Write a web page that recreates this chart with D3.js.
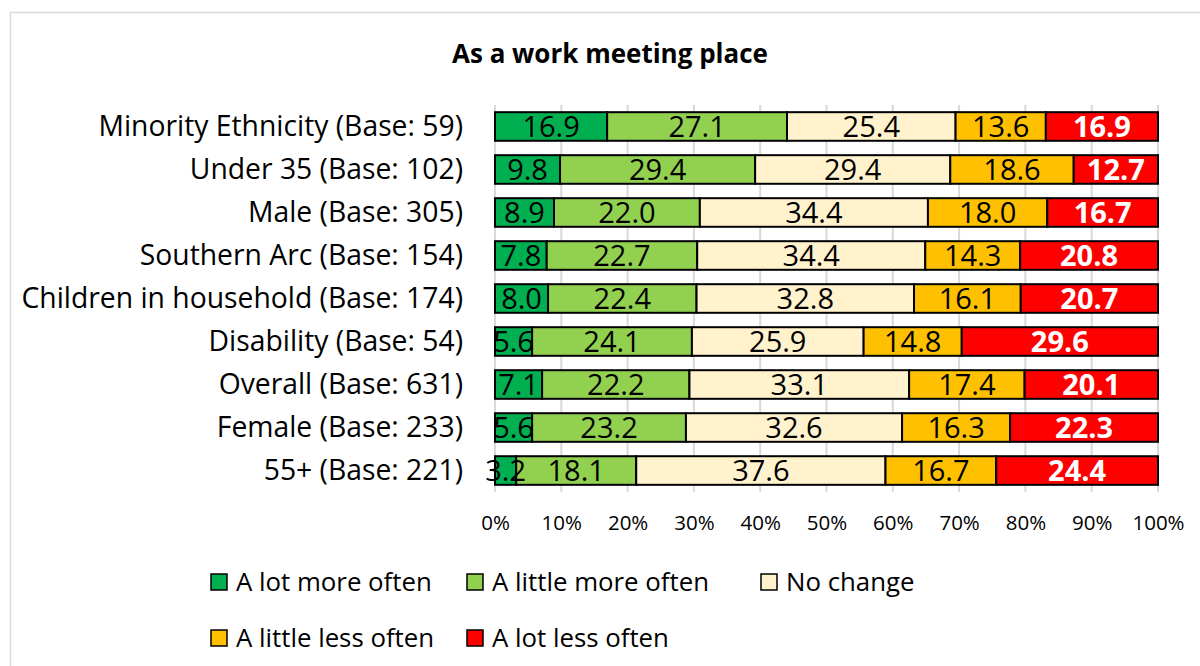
<!DOCTYPE html>
<html>
<head>
<meta charset="utf-8">
<script src="https://cdn.jsdelivr.net/npm/d3@7"></script>
<style>
  html, body { margin: 0; padding: 0; background: #fff; }
  svg { display: block; font-family: "Open Sans", Lato, sans-serif; }
</style>
</head>
<body>
<svg id="chart" width="1200" height="666"></svg>
<script>
// Survey groups, listed top to bottom
const categories = [
  "Minority Ethnicity (Base: 59)",
  "Under 35 (Base: 102)",
  "Male (Base: 305)",
  "Southern Arc (Base: 154)",
  "Children in household (Base: 174)",
  "Disability (Base: 54)",
  "Overall (Base: 631)",
  "Female (Base: 233)",
  "55+ (Base: 221)"
];

const seriesNames = [
  "A lot more often",
  "A little more often",
  "No change",
  "A little less often",
  "A lot less often"
];

// Percentages per response, in the order of categories
const aLotMore    = [16.9, 9.8, 8.9, 7.8, 8.0, 5.6, 7.1, 5.6, 3.2];
const aLittleMore = [27.1, 29.4, 22.0, 22.7, 22.4, 24.1, 22.2, 23.2, 18.1];
const noChange    = [25.4, 29.4, 34.4, 34.4, 32.8, 25.9, 33.1, 32.6, 37.6];
const aLittleLess = [13.6, 18.6, 18.0, 14.3, 16.1, 14.8, 17.4, 16.3, 16.7];
const aLotLess    = [16.9, 12.7, 16.7, 20.8, 20.7, 29.6, 20.1, 22.3, 24.4];

const tickValues = [0, 0.1, 0.2, 0.3, 0.4, 0.5, 0.6, 0.7, 0.8, 0.9, 1.0];

const colors = ["#00B050", "#92D050", "#FFF2CC", "#FFC000", "#FF0000"];
const labelColors = ["#000", "#000", "#000", "#000", "#fff"];
const labelWeights = ["normal", "normal", "normal", "normal", "bold"];

const seriesValues = [aLotMore, aLittleMore, noChange, aLittleLess, aLotLess];
const rows = categories.map((c, i) => {
  const r = { category: c };
  seriesNames.forEach((s, k) => { r[s] = seriesValues[k][i]; });
  return r;
});

const stack = d3.stack().keys(seriesNames).offset(d3.stackOffsetExpand);
const layers = stack(rows);

const svg = d3.select("#chart");

// Chart frame
svg.append("rect")
  .attr("x", 10.5).attr("y", 12.5)
  .attr("width", 1200).attr("height", 700)
  .attr("fill", "#fff").attr("stroke", "#D9D9D9").attr("stroke-width", 1.5);

const plot = { left: 495, right: 1158, top: 105, bottom: 492 };

const x = d3.scaleLinear().domain([0, 1]).range([plot.left, plot.right]);
const y = d3.scaleBand().domain(categories).range([plot.top, plot.bottom]).paddingInner(0.335).paddingOuter(0.167);

// Title
svg.append("text")
  .attr("x", 610).attr("y", 63)
  .attr("text-anchor", "middle")
  .attr("font-size", 26).attr("font-weight", "bold")
  .text("As a work meeting place");

// Vertical gridlines
svg.append("g")
  .selectAll("line")
  .data(tickValues)
  .join("line")
  .attr("x1", d => x(d)).attr("x2", d => x(d))
  .attr("y1", plot.top).attr("y2", plot.bottom)
  .attr("stroke", "#D9D9D9").attr("stroke-width", 2);

// X axis labels
const xAxis = d3.axisBottom(x)
  .tickValues(tickValues)
  .tickFormat(d3.format(".0%"))
  .tickSize(0)
  .tickPadding(0);
const gx = svg.append("g")
  .attr("transform", `translate(0,${plot.bottom + 23})`)
  .call(xAxis);
gx.select(".domain").remove();
gx.selectAll("text").attr("font-size", 20.5).attr("font-family", "'Open Sans', sans-serif").attr("fill", "#000");

// Category labels
const yAxis = d3.axisLeft(y).tickSize(0).tickPadding(0);
const gy = svg.append("g")
  .attr("transform", `translate(${plot.left - 32},0)`)
  .call(yAxis);
gy.select(".domain").remove();
gy.selectAll("text").attr("font-size", 28.3).attr("font-family", "'Open Sans', sans-serif").attr("fill", "#000");

// Stacked bars
const groups = svg.append("g")
  .selectAll("g")
  .data(layers)
  .join("g")
  .attr("fill", (d, i) => colors[i]);

groups.selectAll("rect")
  .data(d => d)
  .join("rect")
  .attr("x", d => x(d[0]))
  .attr("y", d => y(d.data.category))
  .attr("width", d => x(d[1]) - x(d[0]))
  .attr("height", y.bandwidth())
  .attr("stroke", "#000").attr("stroke-width", 2);

// Value labels
const labels = svg.append("g");
layers.forEach((layer, k) => {
  labels.selectAll(null)
    .data(layer)
    .join("text")
    .attr("x", d => (x(d[0]) + x(d[1])) / 2)
    .attr("y", d => y(d.data.category) + y.bandwidth() / 2)
    .attr("dy", "0.36em")
    .attr("text-anchor", "middle")
    .attr("font-size", 29)
    .attr("font-weight", labelWeights[k])
    .attr("fill", labelColors[k])
    .text(d => d.data[layer.key].toFixed(1));
});

// Legend
const legendItems = [
  { name: seriesNames[0], color: colors[0], x: 210, y: 573 },
  { name: seriesNames[1], color: colors[1], x: 466, y: 573 },
  { name: seriesNames[2], color: colors[2], x: 760, y: 573 },
  { name: seriesNames[3], color: colors[3], x: 210, y: 629 },
  { name: seriesNames[4], color: colors[4], x: 466, y: 629 }
];
const lg = svg.append("g")
  .selectAll("g")
  .data(legendItems)
  .join("g")
  .attr("transform", d => `translate(${d.x},${d.y})`);
lg.append("rect")
  .attr("x", 1).attr("y", 1).attr("width", 16).attr("height", 16)
  .attr("fill", d => d.color).attr("stroke", "#000").attr("stroke-width", 1.5);
lg.append("text")
  .attr("x", 26).attr("y", 18)
  .attr("font-size", 25.8)
  .text(d => d.name);
</script>
</body>
</html>
